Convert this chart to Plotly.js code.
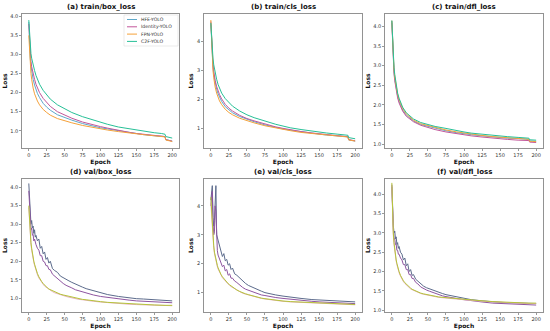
<!DOCTYPE html>
<html><head><meta charset="utf-8">
<script src="https://cdn.plot.ly/plotly-3.0.1.min.js"></script>
<style>html,body{margin:0;padding:0;background:#fff}#c{width:550px;height:331px}</style>
</head><body><div id="c"></div>
<script>
// ---------- DATA ----------
const seriesNames = ["HFE-YOLO", "Identity-YOLO", "FPN-YOLO", "C2F-YOLO"];
const panelTitles = ["(a) train/box_loss", "(b) train/cls_loss", "(c) train/dfl_loss",
                     "(d) val/box_loss", "(e) val/cls_loss", "(f) val/dfl_loss"];
const trainEpochs = [0,1,2,3,4,5,6,8,10,12,15,20,25,30,40,50,60,75,90,100,110,125,140,150,160,175,185,190,191,195,200];
const valEpochs = [0,1,2,3,4,5,6,7,8,9,10,12,14,16,18,20,22,24,26,28,30,33,36,40,44,48,52,56,60,65,70,75,80,90,100,110,125,140,150,160,175,190,200];

// (a) train/box_loss
const boxHFE = [3.85,3.2,2.9,2.7,2.55,2.45,2.35,2.2,2.08,1.98,1.87,1.72,1.62,1.54,1.42,1.34,1.28,1.19,1.12,1.08,1.05,1.0,0.95,0.93,0.9,0.87,0.86,0.85,0.77,0.75,0.73];
const boxIdentity = [3.8,3.3,3.0,2.82,2.68,2.58,2.5,2.35,2.22,2.12,2.0,1.85,1.74,1.64,1.5,1.41,1.33,1.23,1.15,1.11,1.07,1.01,0.96,0.93,0.91,0.88,0.86,0.85,0.77,0.75,0.73];
const boxFPN = [3.5,3.0,2.7,2.5,2.35,2.22,2.12,1.97,1.87,1.78,1.68,1.56,1.48,1.41,1.32,1.26,1.21,1.14,1.08,1.05,1.02,0.98,0.94,0.92,0.9,0.87,0.85,0.84,0.76,0.75,0.72];
const boxC2F = [3.9,3.45,3.2,3.02,2.9,2.8,2.72,2.58,2.45,2.35,2.22,2.06,1.93,1.83,1.68,1.58,1.48,1.37,1.28,1.22,1.17,1.1,1.05,1.02,0.99,0.95,0.93,0.91,0.85,0.84,0.81];
// (b) train/cls_loss
const clsHFE = [4.6,3.95,3.45,3.1,2.87,2.7,2.56,2.35,2.2,2.08,1.93,1.75,1.63,1.54,1.41,1.31,1.23,1.12,1.03,0.98,0.94,0.88,0.83,0.8,0.77,0.74,0.72,0.71,0.6,0.58,0.56];
const clsIdentity = [4.7,4.0,3.5,3.2,2.98,2.8,2.66,2.45,2.3,2.17,2.02,1.83,1.7,1.6,1.45,1.34,1.26,1.15,1.05,1.0,0.95,0.89,0.84,0.81,0.78,0.74,0.72,0.71,0.61,0.59,0.57];
const clsFPN = [4.75,3.9,3.35,3.0,2.75,2.57,2.43,2.22,2.07,1.95,1.82,1.66,1.55,1.47,1.35,1.26,1.19,1.09,1.01,0.96,0.92,0.86,0.82,0.79,0.76,0.73,0.71,0.7,0.6,0.58,0.56];
const clsC2F = [4.65,4.1,3.7,3.4,3.2,3.05,2.92,2.7,2.52,2.38,2.22,2.03,1.88,1.77,1.6,1.47,1.37,1.25,1.14,1.08,1.02,0.96,0.9,0.87,0.84,0.8,0.78,0.76,0.68,0.66,0.64];
// (c) train/dfl_loss
const dflHFE = [4.15,3.5,3.1,2.84,2.66,2.52,2.4,2.22,2.09,1.99,1.87,1.74,1.66,1.59,1.5,1.45,1.4,1.34,1.29,1.26,1.24,1.21,1.18,1.17,1.15,1.14,1.13,1.12,1.08,1.07,1.07];
const dflIdentity = [4.1,3.5,3.05,2.8,2.62,2.48,2.36,2.18,2.05,1.95,1.84,1.71,1.63,1.57,1.48,1.42,1.37,1.31,1.26,1.23,1.21,1.18,1.15,1.14,1.12,1.1,1.09,1.09,1.05,1.05,1.04];
const dflFPN = [4.15,3.55,3.15,2.9,2.72,2.58,2.46,2.27,2.14,2.03,1.91,1.77,1.68,1.61,1.52,1.47,1.42,1.36,1.31,1.28,1.25,1.22,1.19,1.18,1.16,1.14,1.13,1.12,1.07,1.07,1.06];
const dflC2F = [4.15,3.6,3.2,2.95,2.78,2.63,2.5,2.3,2.17,2.06,1.94,1.8,1.71,1.64,1.55,1.5,1.45,1.4,1.34,1.31,1.28,1.25,1.22,1.2,1.19,1.17,1.16,1.15,1.11,1.11,1.1];
// (d) val/box_loss
const vboxHFE = [4.1,3.6,3.3,3.0,3.1,2.9,2.95,2.75,2.85,2.65,2.7,2.55,2.6,2.35,2.4,2.2,2.25,2.05,2.1,1.95,2.0,1.8,1.75,1.7,1.6,1.55,1.5,1.47,1.43,1.38,1.33,1.3,1.26,1.2,1.15,1.1,1.05,1.01,0.99,0.98,0.96,0.94,0.93];
const vboxIdentity = [3.9,3.4,3.1,2.85,2.9,2.7,2.72,2.55,2.6,2.45,2.45,2.35,2.3,2.15,2.15,2.0,1.98,1.88,1.88,1.78,1.77,1.65,1.6,1.52,1.45,1.4,1.35,1.32,1.28,1.23,1.2,1.17,1.14,1.09,1.05,1.02,0.98,0.95,0.93,0.92,0.9,0.89,0.88];
const vboxFPN = [3.45,3.0,2.7,2.46,2.3,2.16,2.06,1.97,1.89,1.82,1.75,1.64,1.55,1.48,1.43,1.38,1.33,1.3,1.26,1.23,1.21,1.18,1.15,1.12,1.09,1.07,1.05,1.03,1.01,0.99,0.97,0.96,0.94,0.92,0.9,0.88,0.86,0.84,0.83,0.82,0.81,0.8,0.8];
const vboxC2F = [3.5,3.05,2.75,2.5,2.35,2.2,2.1,2.0,1.92,1.85,1.78,1.67,1.58,1.5,1.45,1.4,1.35,1.32,1.28,1.25,1.23,1.2,1.17,1.14,1.11,1.09,1.07,1.05,1.03,1.01,0.99,0.97,0.96,0.93,0.91,0.89,0.87,0.85,0.84,0.83,0.82,0.81,0.81];
// (e) val/cls_loss
const vclsHFE = [4.2,4.5,4.7,3.6,3.3,3.5,4.7,4.7,3.0,2.9,2.8,2.6,2.5,2.25,2.35,2.1,2.15,1.95,2.0,1.8,1.85,1.65,1.6,1.5,1.4,1.32,1.25,1.2,1.15,1.1,1.05,1.0,0.97,0.92,0.88,0.84,0.8,0.76,0.75,0.73,0.71,0.69,0.68];
const vclsIdentity = [4.0,4.3,4.5,3.4,3.0,3.1,4.0,3.8,2.6,2.45,2.3,2.15,2.05,1.9,1.95,1.75,1.8,1.6,1.65,1.5,1.5,1.4,1.35,1.25,1.18,1.12,1.08,1.05,1.0,0.96,0.92,0.9,0.87,0.83,0.8,0.77,0.73,0.7,0.68,0.67,0.65,0.63,0.62];
const vclsFPN = [4.1,3.6,3.2,2.8,2.55,2.35,2.2,2.08,1.98,1.9,1.82,1.7,1.6,1.52,1.46,1.4,1.34,1.3,1.25,1.21,1.18,1.13,1.08,1.03,0.98,0.95,0.92,0.89,0.86,0.83,0.8,0.78,0.76,0.73,0.7,0.68,0.66,0.64,0.63,0.62,0.6,0.59,0.58];
const vclsC2F = [4.3,3.75,3.3,2.9,2.62,2.4,2.25,2.12,2.02,1.94,1.86,1.73,1.63,1.55,1.48,1.42,1.36,1.31,1.27,1.23,1.19,1.14,1.09,1.04,0.99,0.96,0.93,0.9,0.87,0.84,0.81,0.79,0.77,0.74,0.71,0.69,0.67,0.65,0.64,0.63,0.61,0.6,0.59];
// (f) val/dfl_loss
const vdflHFE = [4.25,3.6,3.2,3.0,3.05,2.85,2.9,2.7,2.75,2.6,2.65,2.5,2.45,2.3,2.35,2.15,2.2,2.0,2.05,1.9,1.92,1.8,1.75,1.68,1.62,1.58,1.55,1.52,1.5,1.46,1.43,1.4,1.38,1.34,1.3,1.27,1.24,1.21,1.2,1.19,1.18,1.17,1.17];
const vdflIdentity = [4.2,3.5,3.1,2.85,2.85,2.7,2.7,2.55,2.55,2.45,2.45,2.35,2.3,2.18,2.18,2.05,2.05,1.92,1.92,1.82,1.82,1.72,1.68,1.6,1.55,1.52,1.49,1.46,1.43,1.4,1.37,1.35,1.33,1.3,1.27,1.24,1.21,1.18,1.17,1.16,1.15,1.14,1.13];
const vdflFPN = [4.25,3.4,2.95,2.7,2.52,2.38,2.27,2.18,2.1,2.03,1.97,1.88,1.8,1.74,1.69,1.65,1.61,1.58,1.55,1.53,1.51,1.48,1.46,1.43,1.41,1.39,1.37,1.36,1.35,1.33,1.32,1.31,1.3,1.28,1.26,1.25,1.23,1.21,1.2,1.19,1.18,1.17,1.17];
const vdflC2F = [4.3,3.45,3.0,2.75,2.56,2.42,2.3,2.21,2.13,2.06,2.0,1.9,1.82,1.76,1.71,1.67,1.63,1.6,1.57,1.54,1.52,1.49,1.47,1.44,1.42,1.4,1.38,1.37,1.36,1.34,1.33,1.32,1.31,1.29,1.27,1.26,1.24,1.22,1.21,1.2,1.19,1.18,1.18];

const xTicks = [0,25,50,75,100,125,150,175,200];

// ---------- STYLE ----------
const trainColors = ["#5fa8c9", "#c2569a", "#f5a13a", "#27c097"];
const valColors = ["#5c6b8c", "#8e55a0", "#e6b0bc", "#b5c43a"];
const panels = [
  {x: trainEpochs, ys: [boxHFE, boxIdentity, boxFPN, boxC2F], colors: trainColors, yr: [0.55, 4.06], dt: 0.5, fmt: ".1f"},
  {x: trainEpochs, ys: [clsHFE, clsIdentity, clsFPN, clsC2F], colors: trainColors, yr: [0.32, 4.96], dt: 1, fmt: "d"},
  {x: trainEpochs, ys: [dflHFE, dflIdentity, dflFPN, dflC2F], colors: trainColors, yr: [0.9, 4.32], dt: 0.5, fmt: ".1f"},
  {x: valEpochs, ys: [vboxHFE, vboxIdentity, vboxFPN, vboxC2F], colors: valColors, yr: [0.63, 4.22], dt: 0.5, fmt: ".1f"},
  {x: valEpochs, ys: [vclsHFE, vclsIdentity, vclsFPN, vclsC2F], colors: valColors, yr: [0.33, 4.93], dt: 1, fmt: "d"},
  {x: valEpochs, ys: [vdflHFE, vdflIdentity, vdflFPN, vdflC2F], colors: valColors, yr: [0.95, 4.40], dt: 0.5, fmt: ".1f"}
];
const W = 550, H = 331;
const xDom = [[22,179],[204,362],[385,543]];
const yDom = [[14,148],[179,312]];
const FONT = "DejaVu Sans, Arial, sans-serif";

const traces = [];
const layout = {
  width: W, height: H, margin: {l:0,r:0,t:0,b:0},
  paper_bgcolor: "#fff", plot_bgcolor: "#fff",
  showlegend: false, font: {family: FONT, size: 5, color: "#222"},
  annotations: [], shapes: []
};
panels.forEach((p, i) => {
  const r = Math.floor(i/3), c = i % 3, k = i + 1;
  const xa = "xaxis" + (k === 1 ? "" : k), ya = "yaxis" + (k === 1 ? "" : k);
  const xr = "x" + (k === 1 ? "" : k), yr = "y" + (k === 1 ? "" : k);
  p.ys.forEach((y, s) => {
    traces.push({type: "scatter", mode: "lines", x: p.x, y: y, name: seriesNames[s],
      xaxis: xr, yaxis: yr, line: {color: p.colors[s], width: 1}, hoverinfo: "skip"});
  });
  const axCommon = {showline: true, mirror: true, linecolor: "#777", linewidth: 0.8,
    showgrid: false, zeroline: false, ticks: "outside", ticklen: 2, tickwidth: 0.6,
    tickcolor: "#555", tickfont: {size: 5, color: "#333", family: FONT}};
  layout[xa] = Object.assign({}, axCommon, {
    domain: [xDom[c][0]/W, xDom[c][1]/W], range: [-9.5, 209.5],
    tickvals: xTicks, anchor: yr,
    title: {text: "<b>Epoch</b>", font: {size: 6, family: FONT, color: "#111"}, standoff: 1}
  });
  layout[ya] = Object.assign({}, axCommon, {
    domain: [1 - yDom[r][1]/H, 1 - yDom[r][0]/H], range: p.yr,
    dtick: p.dt, tick0: 0, tickformat: p.fmt, anchor: xr,
    title: {text: "<b>Loss</b>", font: {size: 6, family: FONT, color: "#111"}, standoff: 2}
  });
  layout.annotations.push({text: "<b>" + panelTitles[i] + "</b>", xref: "paper", yref: "paper",
    x: (xDom[c][0] + xDom[c][1]) / 2 / W, y: 1 - (yDom[r][0] - 7) / H,
    xanchor: "center", yanchor: "middle", showarrow: false,
    font: {size: 7, family: FONT, color: "#111"}});
});

// legend (top-right of panel a)
const lgX0 = 124, lgY0 = 15, lgW = 54, lgH = 31;
layout.shapes.push({type: "rect", xref: "paper", yref: "paper",
  x0: lgX0/W, x1: (lgX0+lgW)/W, y0: 1-(lgY0+lgH)/H, y1: 1-lgY0/H,
  line: {color: "#ddd", width: 0.6}, fillcolor: "rgba(255,255,255,0.8)", layer: "above"});
seriesNames.forEach((n, s) => {
  const yy = lgY0 + 4.5 + s*7.3;
  layout.shapes.push({type: "line", xref: "paper", yref: "paper",
    x0: (lgX0+3)/W, x1: (lgX0+13)/W, y0: 1-yy/H, y1: 1-yy/H,
    line: {color: trainColors[s], width: 1}, layer: "above"});
  layout.annotations.push({text: n, xref: "paper", yref: "paper",
    x: (lgX0+16)/W, y: 1-yy/H, xanchor: "left", yanchor: "middle", showarrow: false,
    borderpad: 0, font: {size: 4.6, family: FONT, color: "#333"}});
});

Plotly.newPlot("c", traces, layout, {staticPlot: true, displayModeBar: false});
</script></body></html>
